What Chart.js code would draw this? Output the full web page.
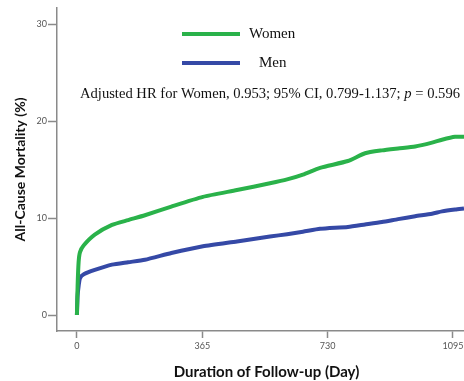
<!DOCTYPE html>
<html lang="en">
<head>
  <meta charset="UTF-8">
  <title>All-Cause Mortality</title>
  <style>
    html, body { margin: 0; padding: 0; overflow: hidden; background: #fff; }
    #wrap { position: relative; width: 476px; height: 381px; }
  </style>
</head>
<body>
  <div id="wrap"><canvas id="mortChart"></canvas></div>
  <script src="https://cdn.jsdelivr.net/npm/chart.js"></script>
  <script>
    // follow-up days and cumulative mortality (%)
    const days = [0, 2, 5, 9, 20, 52, 102, 149, 198, 275, 367, 466, 562, 612, 658, 708, 789, 839, 888, 935, 985, 1034, 1063, 1101, 1127]
    const women = [0, 3.0, 5.5, 6.5, 7.2, 8.3, 9.3, 9.8, 10.3, 11.2, 12.2, 12.9, 13.6, 14.0, 14.5, 15.2, 15.9, 16.7, 17.0, 17.2, 17.4, 17.8, 18.1, 18.4, 18.4]
    const men = [0, 2.0, 3.0, 3.8, 4.2, 4.65, 5.2, 5.45, 5.7, 6.4, 7.1, 7.6, 8.1, 8.35, 8.6, 8.9, 9.1, 9.35, 9.6, 9.9, 10.2, 10.45, 10.7, 10.9, 11.0]
    const xTicks = [0, 365, 730, 1095]
    const yTicks = [0, 10, 20, 30]
    const seriesNames = ['Women', 'Men']
    const note = 'Adjusted HR for Women, 0.953; 95% CI, 0.799-1.137; '
    const noteP = 'p'
    const noteEnd = ' = 0.596'

    const green = '#2ab24a'
    const blue = '#3549a6'
    const axisGray = '#8a8a8a'

    const toPoints = vals => vals.map((v, i) => ({ x: days[i], y: v }))

    // legend lines + HR annotation drawn on top of the plot
    const notePlugin = {
      id: 'notePlugin',
      afterDraw(chart) {
        const ctx = chart.ctx
        ctx.save()
        const rows = [
          { color: green, label: seriesNames[0], y: 34, tx: 249 },
          { color: blue, label: seriesNames[1], y: 63, tx: 259 }
        ]
        ctx.lineWidth = 4
        ctx.font = '15px "Liberation Serif"'
        ctx.textBaseline = 'middle'
        ctx.fillStyle = '#111'
        rows.forEach(r => {
          ctx.strokeStyle = r.color
          ctx.beginPath()
          ctx.moveTo(182, r.y)
          ctx.lineTo(240, r.y)
          ctx.stroke()
          ctx.fillText(r.label, r.tx, r.y)
        })
        let x = 80
        const y = 94
        ctx.font = '14.6px "Liberation Serif"'
        ctx.fillText(note, x, y)
        x += ctx.measureText(note).width
        ctx.font = 'italic 14.6px "Liberation Serif"'
        ctx.fillText(noteP, x, y)
        x += ctx.measureText(noteP).width
        ctx.font = '14.6px "Liberation Serif"'
        ctx.fillText(noteEnd, x, y)
        ctx.restore()
      }
    }

    new Chart(document.getElementById('mortChart'), {
      type: 'line',
      data: {
        datasets: [
          { label: seriesNames[0], data: toPoints(women), borderColor: green, borderWidth: 4, pointRadius: 0, tension: 0.2, fill: false },
          { label: seriesNames[1], data: toPoints(men), borderColor: blue, borderWidth: 4, pointRadius: 0, tension: 0.2, fill: false }
        ]
      },
      options: {
        responsive: true,
        maintainAspectRatio: false,
        animation: false,
        layout: { padding: { top: 8, left: 0, right: 0, bottom: 0 } },
        plugins: { legend: { display: false }, tooltip: { enabled: false } },
        scales: {
          x: {
            type: 'linear',
            min: -58,
            max: 1162,
            afterBuildTicks: s => { s.ticks = xTicks.map(v => ({ value: v })) },
            afterFit: s => { s.height = 50 },
            border: { color: axisGray, width: 1.5 },
            grid: { drawOnChartArea: false, drawTicks: true, tickLength: 7, tickColor: axisGray, tickWidth: 1.5 },
            ticks: { color: '#555', font: { family: 'Lato', size: 9 }, padding: 3, maxRotation: 0, callback: v => String(v) },
            title: { display: true, text: 'Duration of Follow-up (Day)', color: '#111', font: { family: 'Lato', size: 15, weight: 'bold' }, padding: { top: 3, bottom: 0 } }
          },
          y: {
            min: -1.65,
            max: 31.7,
            afterBuildTicks: s => { s.ticks = yTicks.map(v => ({ value: v })) },
            afterFit: s => { s.width = 57 },
            border: { color: axisGray, width: 1.5 },
            grid: { drawOnChartArea: false, drawTicks: true, tickLength: 9, tickColor: axisGray, tickWidth: 1.5 },
            ticks: { color: '#555', font: { family: 'Lato', size: 9 }, padding: 1, callback: v => String(v) },
            title: { display: true, text: 'All-Cause Mortality (%)', color: '#111', font: { family: 'Lato', size: 14, weight: 'bold' }, padding: { top: 12, bottom: 0 } }
          }
        }
      },
      plugins: [notePlugin]
    })
  </script>
</body>
</html>
